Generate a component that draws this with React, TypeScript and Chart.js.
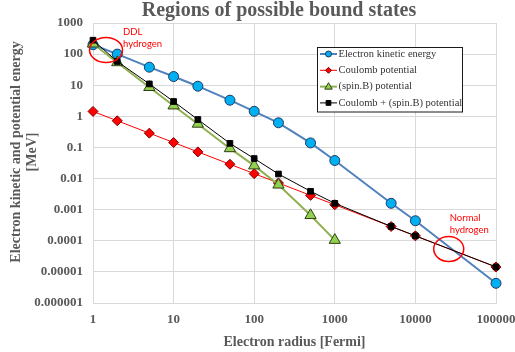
import React, { useEffect, useRef } from 'react';
import { Chart, registerables } from 'chart.js';

Chart.register(...registerables);

const TITLE = 'Regions of possible bound states';
const X_TITLE = 'Electron radius [Fermi]';
const Y_TITLE = ['Electron kinetic and potential energy', '[MeV]'];

const radii = [1, 2, 5, 10, 20, 50, 100, 200, 500, 1000, 5000, 10000, 100000];
const kinetic = [200, 100, 38, 19, 9.3, 3.3, 1.45, 0.62, 0.14, 0.038, 0.0016, 0.00044, 0.0000043];
const coulomb = [1.44, 0.72, 0.288, 0.144, 0.072, 0.0288, 0.0144, 0.0072, 0.00288, 0.00144, 0.000288, 0.000144, 0.0000144];
const spinB = [215, 54, 8.6, 2.2, 0.57, 0.093, 0.026, 0.0063, 0.00066, 0.000105];
const combined = [280, 58, 11, 3.0, 0.79, 0.135, 0.044, 0.014, 0.0039, 0.0016, 0.00029, 0.000144, 0.0000144];

const seriesNames = [
  'Electron kinetic energy',
  'Coulomb potential',
  '(spin.B) potential',
  'Coulomb + (spin.B) potential',
];

const xTickValues = [1, 10, 100, 1000, 10000, 100000];
const xTickLabels = ['1', '10', '100', '1000', '10000', '100000'];
const yTickValues = [0.000001, 0.00001, 0.0001, 0.001, 0.01, 0.1, 1, 10, 100, 1000];
const yTickLabels = ['0.000001', '0.00001', '0.0001', '0.001', '0.01', '0.1', '1', '10', '100', '1000'];

// annotations: [label lines, x (Fermi), y (MeV)]
const annotationLabels = [['DDL', 'hydrogen'], ['Normal', 'hydrogen']];
const annotationX = [1.45, 25900];
const annotationY = [135, 0.000054];

const styles = [
  { line: '#4f81bd', fill: '#00b0f0', edge: '#1f3864', shape: 'circle', r: 5, lw: 2 },
  { line: '#ff0000', fill: '#ff0000', edge: '#7f0000', shape: 'rectRot', r: 5, lw: 1 },
  { line: '#8fb04f', fill: '#92d050', edge: '#2f3f12', shape: 'triangle', r: 6.5, lw: 2 },
  { line: '#000000', fill: '#000000', edge: '#000000', shape: 'rect', r: 4, lw: 1 },
];

const SERIF = '"Liberation Serif", "Times New Roman", serif';
const SANS = 'Lato, "Liberation Sans", sans-serif';

function marker(ctx: CanvasRenderingContext2D, shape: string, cx: number, cy: number, r: number, fill: string, edge: string) {
  ctx.beginPath();
  if (shape === 'circle') {
    ctx.arc(cx, cy, r, 0, Math.PI * 2);
  } else if (shape === 'rectRot') {
    ctx.moveTo(cx, cy - r);
    ctx.lineTo(cx + r, cy);
    ctx.lineTo(cx, cy + r);
    ctx.lineTo(cx - r, cy);
    ctx.closePath();
  } else if (shape === 'triangle') {
    ctx.moveTo(cx, cy - r);
    ctx.lineTo(cx + r * 0.95, cy + r * 0.65);
    ctx.lineTo(cx - r * 0.95, cy + r * 0.65);
    ctx.closePath();
  } else {
    ctx.rect(cx - r, cy - r, 2 * r, 2 * r);
  }
  ctx.fillStyle = fill;
  ctx.fill();
  ctx.strokeStyle = edge;
  ctx.lineWidth = 1;
  ctx.stroke();
}

const overlayPlugin = {
  id: 'overlay',
  afterDraw(chart: any) {
    const ctx: CanvasRenderingContext2D = chart.ctx;
    const area = chart.chartArea;
    const xs = chart.scales.x;
    const ys = chart.scales.y;
    ctx.save();

    // chart title
    ctx.fillStyle = '#595959';
    ctx.font = `bold 20px ${SERIF}`;
    ctx.textAlign = 'center';
    ctx.textBaseline = 'middle';
    ctx.fillText(TITLE, 279, 11);

    // x axis title
    ctx.font = `bold 14px ${SERIF}`;
    ctx.fillText(X_TITLE, (area.left + area.right) / 2, 342);

    // y axis title
    ctx.save();
    ctx.translate(16, 152);
    ctx.rotate(-Math.PI / 2);
    ctx.fillText(Y_TITLE[0], 0, 0);
    ctx.fillText(Y_TITLE[1], 0, 16.5);
    ctx.restore();

    // annotations
    const offsets = [
      { dx: 17, dy: [-18, -6.5], rx: 16.5, ry: 12.5 },
      { dx: 1, dy: [-31.5, -19.2], rx: 15, ry: 12.5 },
    ];
    annotationLabels.forEach((lines, i) => {
      const cx = xs.getPixelForValue(annotationX[i]);
      const cy = ys.getPixelForValue(annotationY[i]);
      const o = offsets[i];
      ctx.beginPath();
      ctx.ellipse(cx, cy, o.rx, o.ry, 0, 0, Math.PI * 2);
      ctx.strokeStyle = '#ff0000';
      ctx.lineWidth = 1.5;
      ctx.stroke();
      ctx.fillStyle = '#ff0000';
      ctx.font = `9.5px ${SANS}`;
      ctx.textAlign = 'left';
      ctx.textBaseline = 'middle';
      lines.forEach((t, j) => ctx.fillText(t, cx + o.dx, cy + o.dy[j]));
    });

    // legend
    const bx = area.right - 179;
    const by = area.top + 24;
    const bw = 145;
    const bh = 64.5;
    ctx.fillStyle = '#ffffff';
    ctx.fillRect(bx, by, bw, bh);
    ctx.strokeStyle = '#1a1a1a';
    ctx.lineWidth = 1;
    ctx.strokeRect(bx + 0.5, by + 0.5, bw, bh);
    seriesNames.forEach((name, i) => {
      const s = styles[i];
      const yy = by + 7 + i * 16.3;
      ctx.beginPath();
      ctx.moveTo(bx + 3, yy);
      ctx.lineTo(bx + 20, yy);
      ctx.strokeStyle = s.line;
      ctx.lineWidth = s.lw;
      ctx.stroke();
      marker(ctx, s.shape, bx + 11.5, yy, s.r * 0.6, s.fill, s.edge);
      ctx.fillStyle = '#333333';
      ctx.font = `10.5px ${SERIF}`;
      ctx.textAlign = 'left';
      ctx.textBaseline = 'middle';
      ctx.fillText(name, bx + 21.5, yy);
    });

    ctx.restore();
  },
};

function points(ys: number[]) {
  return ys.map((y, i) => ({ x: radii[i], y }));
}

export default function App() {
  const ref = useRef<HTMLCanvasElement | null>(null);

  useEffect(() => {
    if (!ref.current) return;
    const seriesData = [kinetic, coulomb, spinB, combined];
    const drawOrder = [4, 3, 2, 1];
    const chart = new Chart(ref.current, {
      type: 'line',
      data: {
        datasets: seriesData.map((d, i) => ({
          label: seriesNames[i],
          data: points(d),
          borderColor: styles[i].line,
          borderWidth: styles[i].lw,
          backgroundColor: styles[i].fill,
          pointBackgroundColor: styles[i].fill,
          pointBorderColor: styles[i].edge,
          pointBorderWidth: 1,
          pointStyle: styles[i].shape as any,
          pointRadius: styles[i].r,
          tension: 0,
          fill: false,
          clip: false as any,
          order: drawOrder[i],
        })),
      },
      options: {
        animation: false,
        responsive: true,
        maintainAspectRatio: false,
        layout: { padding: { top: 23, right: 19, bottom: 0, left: 0 } },
        plugins: {
          legend: { display: false },
          title: { display: false },
          tooltip: { enabled: false },
        },
        scales: {
          x: {
            type: 'logarithmic',
            min: 1,
            max: 100000,
            afterBuildTicks: (scale: any) => {
              scale.ticks = xTickValues.map((v) => ({ value: v }));
            },
            afterFit: (scale: any) => {
              scale.height = 49;
              scale.paddingRight = 0;
              scale.paddingLeft = 0;
            },
            ticks: {
              autoSkip: false,
              maxRotation: 0,
              padding: 9,
              color: '#595959',
              font: { family: SERIF, size: 13, weight: 'bold' },
              callback: (_v: any, i: number) => xTickLabels[i],
            },
            grid: { color: '#d9d9d9', lineWidth: 1, drawTicks: false },
            border: { color: '#d9d9d9' },
          },
          y: {
            type: 'logarithmic',
            min: 0.000001,
            max: 1000,
            afterBuildTicks: (scale: any) => {
              scale.ticks = yTickValues.map((v) => ({ value: v }));
            },
            afterFit: (scale: any) => {
              scale.width = 93;
              scale.paddingTop = 0;
              scale.paddingBottom = 0;
            },
            ticks: {
              autoSkip: false,
              padding: 10,
              color: '#595959',
              font: { family: SERIF, size: 13, weight: 'bold' },
              callback: (_v: any, i: number) => yTickLabels[i],
            },
            grid: { color: '#d9d9d9', lineWidth: 1, drawTicks: false },
            border: { color: '#d9d9d9' },
          },
        },
      },
      plugins: [overlayPlugin],
    });
    return () => chart.destroy();
  }, []);

  return (
    <div style={{ position: 'fixed', left: 0, top: 0, width: 515, height: 352, background: '#ffffff' }}>
      <canvas ref={ref} />
    </div>
  );
}
